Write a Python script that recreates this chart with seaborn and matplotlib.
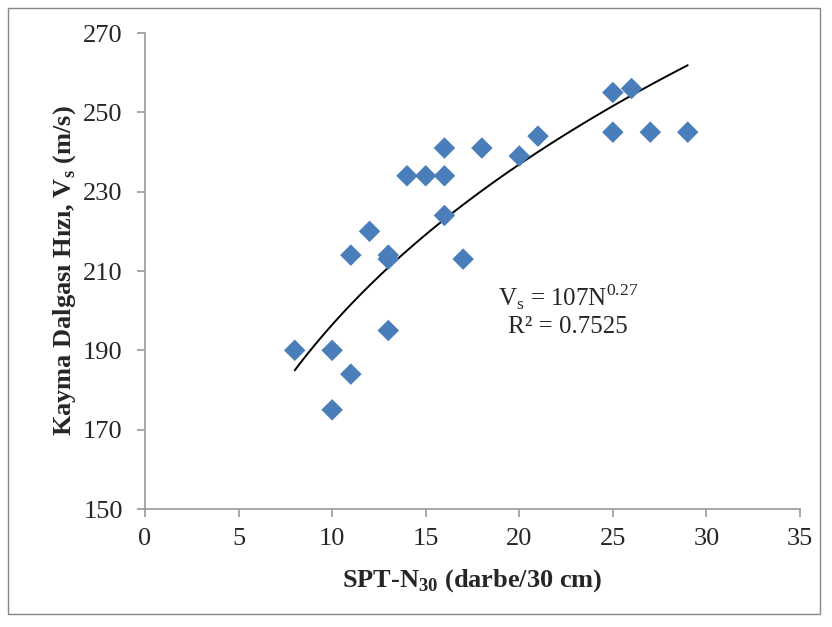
import numpy as np
import pandas as pd
import matplotlib
matplotlib.use('Agg')
import matplotlib.pyplot as plt
import seaborn as sns
from matplotlib.patches import Rectangle

# SPT-N30 ve Vs degerleri
spt_n = [8, 10, 10, 11, 11, 12, 13, 13, 13, 14, 15, 16, 16, 16, 17, 18, 20, 21, 25, 25, 26, 27, 29]
vs = [190, 190, 175, 184, 214, 220, 214, 213, 195, 234, 234, 241, 234, 224, 213, 241, 239, 244, 255, 245, 256, 245, 245]

# power trend: Vs = a * N^b
coef_a = 107
coef_b = 0.27

sns.set_style('ticks')
plt.rcParams['font.family'] = ['Liberation Serif', 'DejaVu Serif']
plt.rcParams['mathtext.fontset'] = 'custom'
plt.rcParams['mathtext.rm'] = 'Liberation Serif'

data = pd.DataFrame({'N': spt_n, 'Vs': vs})
curve_n = np.linspace(min(spt_n), max(spt_n), 100)
curve = pd.DataFrame({'N': curve_n, 'Vs': 105.5 * curve_n ** coef_b})

fig = plt.figure(figsize=(8.32, 6.27), dpi=100)
ax = fig.add_axes([145/832, 1-509/627, (800-145)/832, (509-33)/627])

sns.scatterplot(data=data, x='N', y='Vs', marker='D', s=120, color='#4a7ebb',
                edgecolor='none', ax=ax, zorder=3)
sns.lineplot(data=curve, x='N', y='Vs', color='black', linewidth=1.4, ax=ax, zorder=2)

ax.set_xlim(0, 35)
ax.set_ylim(150, 270)
ax.set_xticks(range(0, 36, 5))
ax.set_yticks(range(150, 271, 20))
ax.tick_params(labelsize=19, length=6, width=1.2, color='#999999', direction='out')
ax.tick_params(axis='y', pad=10)
ax.tick_params(axis='x', pad=8)
for side in ['top', 'right']:
    ax.spines[side].set_visible(False)
for side in ['left', 'bottom']:
    ax.spines[side].set_color('#999999')
    ax.spines[side].set_linewidth(1.2)

ax.set_xlabel('SPT-N$_\\mathregular{30}$ (darbe/30 cm)', fontsize=19, fontweight='bold', labelpad=12)
ax.set_ylabel('Kayma Dalgası Hızı, V$_\\mathregular{s}$ (m/s)', fontsize=19, fontweight='bold', labelpad=4)

ax.text(568/832, 1-297/627, 'V$_\\mathregular{s}$ = ' + str(coef_a) + 'N$^{\\mathregular{' + str(coef_b) + '}}$',
        transform=fig.transFigure, ha='center', va='center', fontsize=18)
ax.text(568/832, 1-327/627, 'R² = 0.7525', transform=fig.transFigure, ha='center', va='center', fontsize=18)

fig.patches.append(Rectangle((8/832, 1-614/627), 812/832, 606/627, transform=fig.transFigure,
                             fill=False, edgecolor='#868686', linewidth=1))

fig.savefig('out.png', dpi=100)
